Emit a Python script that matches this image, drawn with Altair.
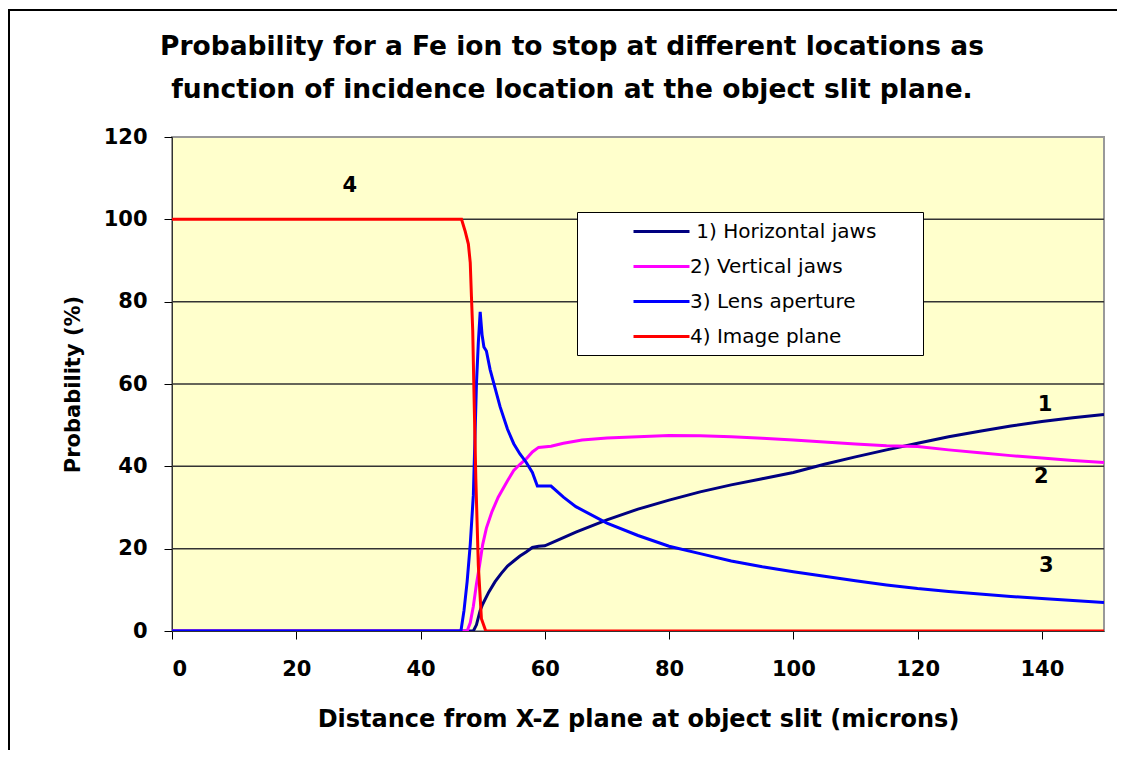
import altair as alt
import pandas as pd

# ---------------- data ----------------
series_names = ["1) Horizontal jaws", "2) Vertical jaws", "3) Lens aperture", "4) Image plane"]
series_colors = ["#000080", "#FF00FF", "#0000FF", "#FF0000"]

x_h = [0, 48, 48.5, 49, 49.6, 50, 51, 52, 53, 54, 55, 56, 57, 58, 59, 60, 62, 65, 70, 75,
       80, 85, 90, 95, 100, 105, 110, 115, 120, 125, 130, 135, 140, 145, 150]
y_h = [0, 0, 0, 1.5, 5, 6.5, 9.5, 12, 14, 15.8, 17, 18.2, 19.2, 20.3, 20.6, 20.7, 22, 24, 27, 29.6,
       31.8, 33.8, 35.5, 37, 38.5, 40.5, 42.3, 44, 45.6, 47.2, 48.5, 49.8, 50.9, 51.8, 52.6]

x_v = [0, 47.5, 48, 48.5, 49, 49.5, 50, 50.6, 51.5, 52.5, 54, 55, 56, 57, 58, 59, 61, 63, 66, 70,
       75, 80, 85, 90, 95, 100, 105, 110, 115, 120, 125, 130, 135, 140, 145, 150]
y_v = [0, 0, 2, 6, 11.4, 16, 21, 25, 29, 32.5, 36.5, 39, 40.5, 41.8, 43.5, 44.6, 44.9, 45.6, 46.4, 46.9,
       47.2, 47.5, 47.4, 47.2, 46.8, 46.4, 45.9, 45.4, 45.0, 44.8, 44.0, 43.3, 42.6, 42.0, 41.4, 40.9]

x_l = [0, 46.5, 47, 47.5, 48, 48.5, 49, 49.3, 49.6, 49.9, 50.2, 50.6, 51.2, 52, 52.8, 54, 55, 56, 57,
       58, 58.8, 61, 63, 65, 70, 75, 80, 85, 90, 95, 100, 105, 110, 115, 120, 125, 130, 135, 140, 145, 150]
y_l = [0, 0, 5, 12, 21, 33, 60, 70, 77.5, 72, 69, 68, 63.5, 59, 54.5, 49, 45.5, 43, 41,
       38.5, 35.2, 35.2, 32.5, 30.2, 26.2, 23.2, 20.6, 18.8, 17.0, 15.6, 14.4, 13.3, 12.2, 11.2, 10.3, 9.6, 9.0, 8.4, 7.9, 7.4, 6.9]

x_i = [0, 46.6, 47.2, 47.7, 48, 48.2, 48.4, 48.6, 48.9, 49.3, 49.8, 50.5, 150]
y_i = [100, 100, 97, 94, 89.5, 81, 73, 58, 37, 16, 3, 0, 0]

label_text = ["4", "1", "2", "3"]
label_x = [28.6, 140.5, 139.9, 140.7]
label_y = [108.1, 54.9, 37.4, 15.8]

grid_values = [20, 40, 60, 80, 100]
x_ticks = [0, 20, 40, 60, 80, 100, 120, 140]
y_ticks = [0, 20, 40, 60, 80, 100, 120]

title_lines = ["Probability for a Fe ion to stop at different locations as",
               "function of incidence location at the object slit plane."]
x_title = "Distance from X-Z plane at object slit  (microns)"
y_title = "Probability (%)"

# ---------------- build tables ----------------
rows = []
for i, (name, xs, ys) in enumerate(zip(series_names, [x_h, x_v, x_l, x_i], [y_h, y_v, y_l, y_i])):
    for k, (xv, yv) in enumerate(zip(xs, ys)):
        rows.append({"series": name, "order": i, "idx": k, "x": xv, "y": yv})
df = pd.DataFrame(rows)
labels_df = pd.DataFrame({"text": label_text, "x": label_x, "y": label_y})
grid_df = pd.DataFrame({"g": grid_values})
frame_df = pd.DataFrame({"k": [0]})

FONT = "DejaVu Sans"

x_scale = alt.Scale(domain=[0, 150], nice=False, zero=False)
y_scale = alt.Scale(domain=[0, 120], nice=False)

x_axis = alt.Axis(values=x_ticks, grid=False, tickSize=8, tickColor="#000000", domainColor="#333333",
                  labelFontSize=21, labelFontWeight="bold", labelFont=FONT, labelColor="#000000",
                  labelPadding=19, title=x_title, titleFontSize=24, titleFont=FONT,
                  titleFontWeight="bold", titleColor="#000000", titlePadding=28)
y_axis = alt.Axis(values=y_ticks, grid=False, tickSize=8, tickColor="#000000", domainColor="#333333",
                  labelFontSize=21, labelFontWeight="bold", labelFont=FONT, labelColor="#000000",
                  labelPadding=17, title=y_title, titleFontSize=21, titleFont=FONT,
                  titleFontWeight="bold", titleColor="#000000", titlePadding=20)

NB = "\u00a0"
ZW = "\u200b"

grid = alt.Chart(grid_df).mark_rule(color="#333333", strokeWidth=1.5).encode(
    y=alt.Y("g:Q", scale=y_scale, axis=y_axis)
)

label_expr = ("(datum.label == '1) Horizontal jaws' ? '" + ZW + NB + "' : '') + datum.label + '"
              + NB * 6 + ZW + "'")

lines = alt.Chart(df).mark_line(strokeWidth=3, clip=True).encode(
    x=alt.X("x:Q", scale=x_scale, axis=x_axis),
    y=alt.Y("y:Q", scale=y_scale, axis=y_axis),
    color=alt.Color("series:N",
                    scale=alt.Scale(domain=series_names, range=series_colors),
                    legend=alt.Legend(
                        title=None, orient="none", legendX=405, legendY=75,
                        fillColor="#FFFFFF", strokeColor="#000000", padding=8,
                        symbolType="M-2.8,0H2.8", symbolSize=400, symbolStrokeWidth=3,
                        symbolOffset=65, labelOffset=17, rowPadding=13, labelLimit=500,
                        labelFontSize=20, labelFont=FONT, labelColor="#000000",
                        labelExpr=label_expr)),
    order=alt.Order("idx:Q"),
    detail="order:O",
)

texts = alt.Chart(labels_df).mark_text(fontSize=21, fontWeight="bold", font=FONT, color="#000000").encode(
    x=alt.X("x:Q", scale=x_scale),
    y=alt.Y("y:Q", scale=y_scale),
    text="text:N",
)

frame_left = alt.Chart(frame_df).mark_rule(color="#000000", strokeWidth=2, clip=False).encode(
    x=alt.value(-163), y=alt.value(-127), y2=alt.value(640)
)
frame_top = alt.Chart(frame_df).mark_rule(color="#000000", strokeWidth=2, clip=False).encode(
    x=alt.value(-164), x2=alt.value(960), y=alt.value(-127)
)

chart = alt.layer(frame_left, frame_top, grid, lines, texts).properties(
    width=932, height=494,
    title=alt.TitleParams(text=title_lines, fontSize=26.5, font=FONT, fontWeight="bold",
                          color="#000000", anchor="middle", frame="group", dx=-66, offset=-94,
                          lineHeight=43),
    autosize=alt.AutoSizeParams(type="none"),
    padding={"left": 164, "top": 129, "right": 13, "bottom": 119},
    background="#FFFFFF",
).configure_view(
    fill="#FFFFCC", stroke="#999999", strokeWidth=2
)

chart.save("out.html", embed_options={"renderer": "svg", "actions": False})
